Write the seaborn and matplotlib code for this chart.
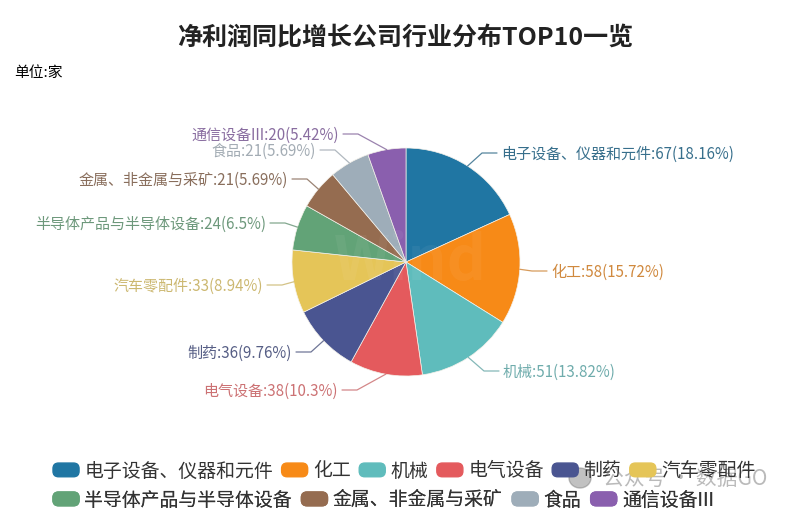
import numpy as np
import matplotlib
matplotlib.use("Agg")
import matplotlib.pyplot as plt
import matplotlib.patches as mpatches
from matplotlib.legend_handler import HandlerPatch
import seaborn as sns

categories = ['电子设备、仪器和元件', '化工', '机械', '电气设备', '制药', '汽车零配件',
              '半导体产品与半导体设备', '金属、非金属与采矿', '食品', '通信设备III']
values = [67, 58, 51, 38, 36, 33, 24, 21, 21, 20]
percents = ['18.16', '15.72', '13.82', '10.3', '9.76', '8.94', '6.5', '5.69', '5.69', '5.42']
hex_colors = ['#2076a3', '#f78a17', '#5fbcbc', '#e45a5d', '#4a5591',
              '#e5c558', '#62a377', '#956c50', '#9eadb9', '#8a5fae']

W, H = 796, 509
CX, CY, R = 406, 262, 114
# leader line elbows in pixels, from the top left corner
elbows = [(482, 153), (532, 271), (484, 371), (357, 390), (311, 352),
          (282, 285), (285, 223), (307, 179), (335, 150), (358, 134)]


def flip(y):
    return H - y


def round_handle(legend, orig_handle, xdescent, ydescent, width, height, fontsize):
    return mpatches.FancyBboxPatch((-xdescent, -ydescent), width, height,
                                   boxstyle='round,pad=0,rounding_size=4', mutation_aspect=1)


sns.set_theme(style='white')
plt.rcParams['font.family'] = ['Noto Sans CJK SC', 'DejaVu Sans']

palette = sns.color_palette(hex_colors)

fig = plt.figure(figsize=(W / 100, H / 100), dpi=100, facecolor='white')
ax = fig.add_axes([0, 0, 1, 1])
wedges, _ = ax.pie(values, colors=palette, startangle=90, counterclock=False, radius=R,
                   center=(CX, flip(CY)), wedgeprops={'edgecolor': '#f4f1ea', 'linewidth': 0.5})
ax.set_xlim(0, W)
ax.set_ylim(0, H)
ax.axis('off')

for i, w in enumerate(wedges):
    ang = np.deg2rad((w.theta1 + w.theta2) / 2)
    x0 = CX + R * np.cos(ang)
    y0 = flip(CY) + R * np.sin(ang)
    ex, ey = elbows[i]
    side = 1 if np.cos(ang) > 0 else -1
    x2 = ex + side * 15
    muted = sns.desaturate(palette[i], 0.65)
    ax.plot([x0, ex, x2], [y0, flip(ey), flip(ey)], color=muted, lw=0.9, alpha=0.85)
    ax.text(x2 + side * 4, flip(ey + 1.5), f'{categories[i]}:{values[i]}({percents[i]}%)',
            color=muted, fontsize=10.85, va='center', ha='left' if side > 0 else 'right')

ax.text(405, flip(38.5), '净利润同比增长公司行业分布TOP10一览', fontsize=18, fontweight='bold',
        color='#222222', ha='center', va='center')
ax.text(14, flip(72.5), '单位:家', fontsize=10.6, color='black', ha='left', va='center')

# watermarks
ax.text(410, flip(262), 'Wind', fontsize=44, fontweight='bold', color='white', alpha=0.05,
        ha='center', va='center')
ax.add_patch(mpatches.Ellipse((580, flip(478)), 22, 20, color='#777777', alpha=0.45))
ax.text(603, flip(479), '公众号 · 数据GO', fontsize=15, color='#777777', alpha=0.5,
        ha='left', va='center')

rows = [(0, 6, 471, 0.45), (6, 10, 500, 0.5)]
for start, stop, y, spacing in rows:
    handles = [mpatches.Patch(color=palette[i]) for i in range(start, stop)]
    leg = ax.legend(handles, categories[start:stop], loc='center left', ncol=stop - start,
                    bbox_to_anchor=(53, flip(y)), bbox_transform=ax.transData, frameon=False,
                    fontsize=13.6, handlelength=1.38, handleheight=0.74, handletextpad=0.28,
                    columnspacing=spacing, borderpad=0, borderaxespad=0,
                    handler_map={mpatches.Patch: HandlerPatch(patch_func=round_handle)})
    for t in leg.get_texts():
        t.set_color('#333333')
    ax.add_artist(leg)

fig.savefig('out.png', dpi=100)
plt.close(fig)
